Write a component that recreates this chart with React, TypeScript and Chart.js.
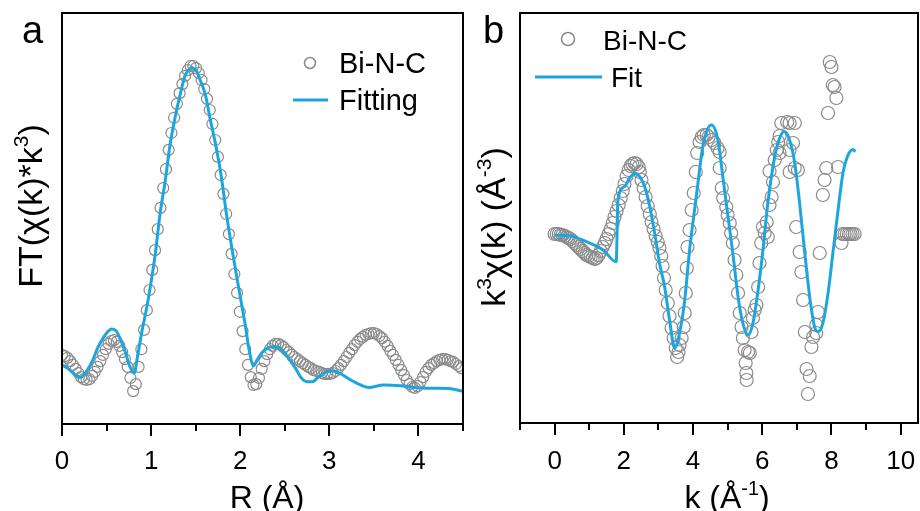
import React, { useEffect, useRef } from 'react';
import { Chart, registerables } from 'chart.js';

Chart.register(...registerables);

const FONT = "'Liberation Sans', Arial, Helvetica, sans-serif";
const BLUE = '#1ba6de';
const GREY = '#8a8a8a';

// ---------- Panel a: FT magnitude vs R ----------
const R_MIN = 0;
const R_MAX = 4.5;
const R_TICKS_MAJOR = [0, 1, 2, 3, 4];
const R_TICKS_MINOR = [0.5, 1.5, 2.5, 3.5, 4.5];
const FT_Y_MIN = 0;
const FT_Y_MAX = 10;
// experimental points sampled every 0.0307 Å starting at R = 0
const FT_R_STEP = 0.0307;
const ftData = [
  1.68, 1.65, 1.61, 1.53, 1.44, 1.34, 1.24, 1.14, 1.09, 1.07,
  1.09, 1.17, 1.27, 1.39, 1.53, 1.68, 1.82, 1.95, 2.02, 2.04,
  2.0, 1.9, 1.75, 1.58, 1.39, 1.12, 0.8, 0.97, 1.39, 1.82,
  2.29, 2.77, 3.26, 3.75, 4.23, 4.74, 5.26, 5.74, 6.2, 6.67,
  7.08, 7.45, 7.79, 8.05, 8.27, 8.47, 8.61, 8.71, 8.71, 8.66,
  8.54, 8.37, 8.15, 7.91, 7.64, 7.3, 6.91, 6.5, 6.06, 5.6,
  5.11, 4.62, 4.14, 3.65, 3.19, 2.73, 2.26, 1.82, 1.44, 1.14,
  0.95, 0.97, 1.12, 1.34, 1.53, 1.7, 1.82, 1.9, 1.95, 1.95,
  1.92, 1.87, 1.8, 1.75, 1.68, 1.63, 1.58, 1.53, 1.48, 1.44,
  1.39, 1.36, 1.31, 1.29, 1.27, 1.24, 1.22, 1.22, 1.22, 1.24,
  1.29, 1.36, 1.44, 1.53, 1.63, 1.73, 1.82, 1.92, 2.0, 2.07,
  2.12, 2.17, 2.19, 2.21, 2.21, 2.19, 2.14, 2.09, 2.0, 1.9,
  1.78, 1.68, 1.56, 1.44, 1.31, 1.19, 1.07, 0.97, 0.9, 0.88,
  0.92, 1.02, 1.14, 1.27, 1.36, 1.44, 1.48, 1.53, 1.56, 1.58,
  1.58, 1.56, 1.53, 1.51, 1.46, 1.41, 1.36,
];
const ftFitR = [
  0, 0.06, 0.11, 0.17, 0.21, 0.27, 0.34, 0.4, 0.47, 0.52,
  0.56, 0.61, 0.65, 0.71, 0.76, 0.81, 0.85, 0.9, 0.95, 0.99,
  1.045, 1.1, 1.16, 1.21, 1.27, 1.33, 1.38, 1.43, 1.46, 1.51,
  1.55, 1.61, 1.66, 1.72, 1.78, 1.85, 1.92, 2.0, 2.06, 2.1,
  2.15, 2.19, 2.24, 2.3, 2.36, 2.41, 2.47, 2.54, 2.62, 2.69,
  2.75, 2.81, 2.88, 2.96, 3.05, 3.12, 3.24, 3.35, 3.44, 3.61,
  3.8, 3.95, 4.17, 4.36, 4.51,
];
const ftFitY = [
  1.44, 1.36, 1.27, 1.17, 1.14, 1.27, 1.53, 1.85, 2.12, 2.26,
  2.31, 2.26, 2.09, 1.75, 1.41, 1.24, 1.68, 2.29, 2.82, 3.33,
  4.11, 5.11, 5.94, 6.76, 7.47, 8.05, 8.47, 8.64, 8.66, 8.59,
  8.37, 8.0, 7.45, 6.84, 6.13, 5.04, 4.1, 3.1, 2.36, 1.8,
  1.42, 1.56, 1.72, 1.84, 1.88, 1.88, 1.8, 1.6, 1.36, 1.11,
  1.03, 1.03, 1.15, 1.26, 1.29, 1.23, 1.07, 0.95, 0.89, 0.95,
  0.93, 0.89, 0.87, 0.86, 0.79,
];

// ---------- Panel b: k^3 chi(k) vs k ----------
const K_MIN = -1;
const K_MAX = 10.5;
const K_TICKS_MAJOR = [0, 2, 4, 6, 8, 10];
const K_TICKS_MINOR = [-1, 1, 3, 5, 7, 9];
const CHI_Y_MIN = -9.45;
const CHI_Y_MAX = 11.05;
const chiK = [
  0.0, 0.06, 0.12, 0.17, 0.23, 0.29, 0.35, 0.4, 0.46, 0.52,
  0.58, 0.64, 0.69, 0.75, 0.81, 0.87, 0.92, 0.98, 1.04, 1.1,
  1.16, 1.21, 1.27, 1.33, 1.39, 1.45, 1.5, 1.56, 1.62, 1.68,
  1.73, 1.79, 1.85, 1.91, 1.97, 2.02, 2.08, 2.14, 2.2, 2.25,
  2.31, 2.37, 2.43, 2.46, 2.51, 2.57, 2.63, 2.69, 2.75, 2.8,
  2.86, 2.92, 2.98, 3.03, 3.08, 3.12, 3.16, 3.21, 3.27, 3.32,
  3.38, 3.44, 3.5, 3.54, 3.58, 3.61, 3.67, 3.73, 3.76, 3.79,
  3.82, 3.84, 3.9, 3.96, 4.02, 4.08, 4.12, 4.19, 4.25, 4.31,
  4.39, 4.45, 4.54, 4.62, 4.71, 4.77, 4.77, 4.83, 4.87, 4.96,
  5.0, 5.06, 5.1, 5.15, 5.2, 5.25, 5.3, 5.35, 5.4, 5.44,
  5.49, 5.52, 5.54, 5.55, 5.59, 5.64, 5.69, 5.73, 5.78, 5.83,
  5.88, 5.92, 5.97, 6.02, 6.07, 6.13, 6.16, 6.21, 6.21, 6.27,
  6.31, 6.36, 6.42, 6.46, 6.5, 6.5, 6.55, 6.72, 6.79, 6.79,
  6.79, 6.89, 6.94, 6.94, 6.98, 7.03, 7.08, 7.13, 7.18, 7.23,
  7.28, 7.32, 7.37, 7.42, 7.47, 7.56, 7.56, 7.61, 7.66, 7.75,
  7.8, 7.85, 7.9, 7.95, 8.0, 8.04, 8.09, 8.14, 8.19, 8.29,
  8.32, 8.38, 8.44, 8.5, 8.55, 8.61, 8.67,
];
const chiY = [
  0.0, 0.0, 0.0, -0.05, -0.05, -0.1, -0.15, -0.2, -0.25, -0.35,
  -0.45, -0.55, -0.65, -0.75, -0.85, -0.95, -1.05, -1.1, -1.15, -1.2,
  -1.25, -1.2, -1.05, -0.85, -0.65, -0.45, -0.25, 0.0, 0.25, 0.55,
  0.85, 1.15, 1.45, 1.8, 2.15, 2.5, 2.9, 3.2, 3.4, 3.5,
  3.55, 3.5, 3.35, 3.1, 2.7, 2.3, 1.85, 1.4, 1.0, 0.6,
  0.25, -0.1, -0.4, -0.7, -1.1, -1.6, -2.2, -2.8, -3.45, -4.1,
  -4.7, -5.2, -5.7, -6.15, -5.9, -5.55, -5.2, -4.65, -3.95, -2.95,
  -1.7, -0.65, 0.2, 1.2, 2.05, 3.1, 4.05, 4.6, 4.85, 4.95,
  4.95, 4.85, 4.7, 4.55, 4.3, 4.1, 3.3, 2.3, 1.8, 1.35,
  0.95, 0.55, 0.05, -0.45, -1.3, -2.05, -2.95, -3.95, -4.65, -5.2,
  -5.8, -6.45, -6.95, -7.3, -5.9, -5.95, -4.9, -4.2, -3.8, -3.55,
  -2.65, -1.45, -0.45, 0.35, 0.05, 0.6, -0.15, 1.45, 3.15, 1.85,
  2.6, 3.7, 4.2, 4.6, 4.9, 4.05, 5.55, 5.6, 5.55, 4.2,
  3.1, 4.55, 5.55, 3.3, 0.35, 3.2, -0.9, -1.9, -3.3, -4.9,
  -6.75, -8.0, -7.1, -5.65, -5.15, -4.55, -4.95, -3.9, -0.95, 1.95,
  2.7, 3.3, 6.05, 8.6, 8.35, 7.45, 7.35, 6.8, 3.35, -0.45,
  0.0, 0.0, 0.0, 0.0, 0.0, 0.0, 0.0,
];
const chiFitK = [
  0, 0.53, 1.01, 1.4, 1.78, 1.83, 2.02, 2.17, 2.31, 2.46,
  2.6, 2.75, 2.89, 3.03, 3.18, 3.32, 3.47, 3.61, 3.76, 3.9,
  4.1, 4.29, 4.53, 4.72, 4.86, 5.01, 5.15, 5.3, 5.44, 5.59,
  5.73, 5.88, 6.02, 6.16, 6.36, 6.5, 6.63, 6.79, 6.94, 7.08,
  7.23, 7.37, 7.51, 7.61, 7.75, 7.9, 8.04, 8.19, 8.33, 8.48,
  8.62, 8.69,
];
const chiFitY = [
  -0.05, -0.13, -0.45, -0.8, -1.39, 1.7, 2.37, 2.8, 3.03, 2.87,
  2.37, 1.37, 0.05, -1.45, -2.65, -4.3, -5.7, -4.95, -3.3, -0.8,
  1.95, 4.45, 5.45, 4.7, 2.87, 0.87, -0.97, -3.13, -4.47, -5.05,
  -4.47, -2.8, -0.8, 1.53, 3.87, 4.78, 5.12, 4.7, 3.53, 1.53,
  -0.97, -3.13, -4.63, -4.88, -4.47, -2.97, -0.97, 1.2, 3.03, 3.95,
  4.23, 4.12,
];

// ---------- drawing helpers ----------
type Seg = { t: string; sup?: boolean };

function drawRich(ctx: CanvasRenderingContext2D, segs: Seg[], x: number, y: number, size: number, align: 'center' | 'left') {
  const widths = segs.map((s) => {
    ctx.font = `${s.sup ? size * 0.62 : size}px ${FONT}`;
    return ctx.measureText(s.t).width;
  });
  const total = widths.reduce((a, b) => a + b, 0);
  let cx = align === 'center' ? x - total / 2 : x;
  ctx.textAlign = 'left';
  ctx.textBaseline = 'alphabetic';
  segs.forEach((s, i) => {
    ctx.font = `${s.sup ? size * 0.62 : size}px ${FONT}`;
    ctx.fillText(s.t, cx, s.sup ? y - size * 0.4 : y);
    cx += widths[i];
  });
}

type LegendCfg = {
  circleX: number; circleY: number; circleR: number;
  dataLabel: string; dataLabelX: number; dataLabelY: number;
  lineX1: number; lineX2: number; lineY: number;
  fitLabel: string; fitLabelX: number; fitLabelY: number;
  size: number;
};

type FrameCfg = {
  letter: string; letterX: number; letterY: number;
  major: number[]; minor: number[];
  tickLabelY: number;
  xTitle: Seg[]; xTitleX: number; xTitleY: number;
  yTitle: Seg[]; yTitleX: number; yTitleY: number;
  legend: LegendCfg;
};

function framePlugin(cfg: FrameCfg) {
  return {
    id: 'frame',
    afterDraw(chart: any) {
      const ctx: CanvasRenderingContext2D = chart.ctx;
      const { left, right, top, bottom } = chart.chartArea;
      const xs = chart.scales.x;
      ctx.save();
      ctx.fillStyle = '#000';
      ctx.strokeStyle = '#000';
      ctx.lineWidth = 2;
      ctx.strokeRect(left, top, right - left, bottom - top);
      // ticks
      const tick = (v: number, len: number) => {
        const px = Math.round(xs.getPixelForValue(v));
        ctx.beginPath();
        ctx.moveTo(px, bottom);
        ctx.lineTo(px, bottom + len);
        ctx.stroke();
      };
      cfg.major.forEach((v) => tick(v, 12));
      cfg.minor.forEach((v) => tick(v, 7));
      ctx.font = `26px ${FONT}`;
      ctx.textAlign = 'center';
      ctx.textBaseline = 'alphabetic';
      cfg.major.forEach((v) => ctx.fillText(String(v), xs.getPixelForValue(v), cfg.tickLabelY));
      // axis titles
      drawRich(ctx, cfg.xTitle, cfg.xTitleX, cfg.xTitleY, 32, 'center');
      ctx.save();
      ctx.translate(cfg.yTitleX, cfg.yTitleY);
      ctx.rotate(-Math.PI / 2);
      drawRich(ctx, cfg.yTitle, 0, 0, 34, 'center');
      ctx.restore();
      // panel letter
      ctx.font = `38px ${FONT}`;
      ctx.textAlign = 'left';
      ctx.fillText(cfg.letter, cfg.letterX, cfg.letterY);
      // legend
      const L = cfg.legend;
      ctx.strokeStyle = GREY;
      ctx.lineWidth = 1.5;
      ctx.beginPath();
      ctx.arc(L.circleX, L.circleY, L.circleR, 0, Math.PI * 2);
      ctx.stroke();
      ctx.strokeStyle = BLUE;
      ctx.lineWidth = 3;
      ctx.beginPath();
      ctx.moveTo(L.lineX1, L.lineY);
      ctx.lineTo(L.lineX2, L.lineY);
      ctx.stroke();
      ctx.fillStyle = '#000';
      ctx.font = `${L.size}px ${FONT}`;
      ctx.textAlign = 'left';
      ctx.fillText(L.dataLabel, L.dataLabelX, L.dataLabelY);
      ctx.fillText(L.fitLabel, L.fitLabelX, L.fitLabelY);
      ctx.restore();
    },
  };
}

function buildConfig(opts: {
  data: { x: number; y: number }[];
  fit: { x: number; y: number }[];
  xmin: number; xmax: number; ymin: number; ymax: number;
  padding: { left: number; right: number; top: number; bottom: number };
  radius: number;
  frame: FrameCfg;
}): any {
  return {
    type: 'scatter',
    data: {
      datasets: [
        {
          label: 'Fit',
          data: opts.fit,
          showLine: true,
          borderColor: BLUE,
          borderWidth: 3,
          pointRadius: 0,
          cubicInterpolationMode: 'monotone',
          fill: false,
          order: 0,
        },
        {
          label: 'Bi-N-C',
          data: opts.data,
          showLine: false,
          pointStyle: 'circle',
          pointRadius: opts.radius,
          pointBackgroundColor: 'rgba(0,0,0,0)',
          pointBorderColor: GREY,
          pointBorderWidth: 1.2,
          order: 1,
        },
      ],
    },
    options: {
      responsive: false,
      devicePixelRatio: 1,
      animation: false,
      events: [],
      layout: { padding: opts.padding, autoPadding: false },
      plugins: { legend: { display: false }, tooltip: { enabled: false } },
      scales: {
        x: { type: 'linear', min: opts.xmin, max: opts.xmax, display: false },
        y: { type: 'linear', min: opts.ymin, max: opts.ymax, display: false },
      },
    },
    plugins: [framePlugin(opts.frame)],
  };
}

export default function App() {
  const refA = useRef<HTMLCanvasElement>(null);
  const refB = useRef<HTMLCanvasElement>(null);

  useEffect(() => {
    const ftPoints = ftData.map((y, i) => ({ x: +(i * FT_R_STEP).toFixed(4), y }));
    const ftFitPoints = ftFitR.map((x, i) => ({ x, y: ftFitY[i] }));
    const chiPoints = chiK.map((x, i) => ({ x, y: chiY[i] }));
    const chiFitPoints = chiFitK.map((x, i) => ({ x, y: chiFitY[i] }));

    const chartA = new Chart(
      refA.current!,
      buildConfig({
        data: ftPoints,
        fit: ftFitPoints,
        xmin: R_MIN, xmax: R_MAX, ymin: FT_Y_MIN, ymax: FT_Y_MAX,
        padding: { left: 62, right: 7, top: 13, bottom: 87 },
        radius: 5.5,
        frame: {
          letter: 'a', letterX: 22, letterY: 43,
          major: R_TICKS_MAJOR, minor: R_TICKS_MINOR,
          tickLabelY: 469,
          xTitle: [{ t: 'R (Å)' }], xTitleX: 267, xTitleY: 508,
          yTitle: [{ t: 'FT(χ(k)*k' }, { t: '3', sup: true }, { t: ')' }], yTitleX: 42, yTitleY: 206,
          legend: {
            circleX: 310, circleY: 63, circleR: 5.5,
            dataLabel: 'Bi-N-C', dataLabelX: 339, dataLabelY: 73,
            lineX1: 293, lineX2: 328, lineY: 100,
            fitLabel: 'Fitting', fitLabelX: 339, fitLabelY: 110,
            size: 29,
          },
        },
      })
    );

    const chartB = new Chart(
      refB.current!,
      buildConfig({
        data: chiPoints,
        fit: chiFitPoints,
        xmin: K_MIN, xmax: K_MAX, ymin: CHI_Y_MIN, ymax: CHI_Y_MAX,
        padding: { left: 50, right: 2, top: 13, bottom: 88 },
        radius: 6.5,
        frame: {
          letter: 'b', letterX: 13, letterY: 43,
          major: K_TICKS_MAJOR, minor: K_TICKS_MINOR,
          tickLabelY: 469,
          xTitle: [{ t: 'k (Å' }, { t: '-1', sup: true }, { t: ')' }], xTitleX: 257, xTitleY: 508,
          yTitle: [{ t: 'k' }, { t: '3', sup: true }, { t: 'χ(k) (Å' }, { t: '-3', sup: true }, { t: ')' }],
          yTitleX: 35, yTitleY: 227,
          legend: {
            circleX: 98, circleY: 39, circleR: 6.5,
            dataLabel: 'Bi-N-C', dataLabelX: 133, dataLabelY: 50,
            lineX1: 65, lineX2: 132, lineY: 77,
            fitLabel: 'Fit', fitLabelX: 141, fitLabelY: 87,
            size: 28,
          },
        },
      })
    );

    return () => {
      chartA.destroy();
      chartB.destroy();
    };
  }, []);

  return (
    <div style={{ position: 'fixed', left: 0, top: 0, width: 920, height: 511, background: '#fff', overflow: 'hidden' }}>
      <canvas ref={refA} width={470} height={511} style={{ position: 'absolute', left: 0, top: 0, width: 470, height: 511 }} />
      <canvas ref={refB} width={450} height={511} style={{ position: 'absolute', left: 470, top: 0, width: 450, height: 511 }} />
    </div>
  );
}
